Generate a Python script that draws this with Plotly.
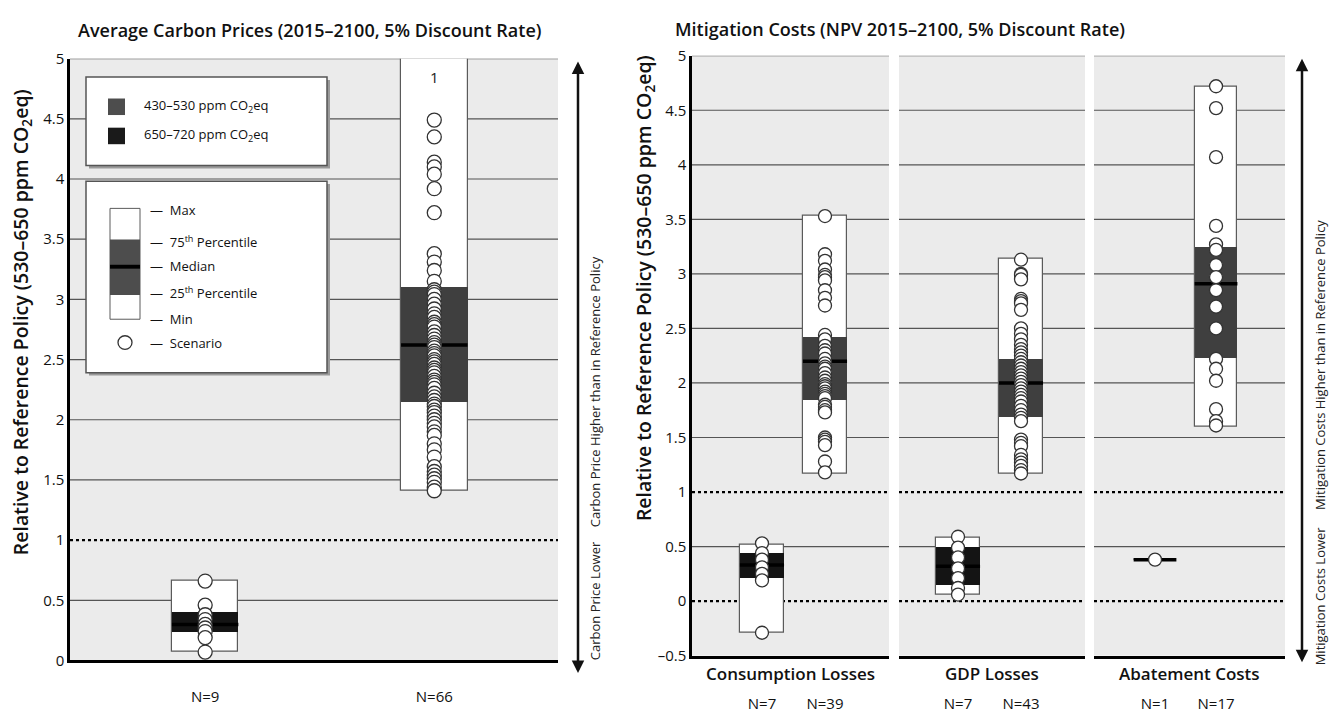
import plotly.graph_objects as go

W, H = 1330, 722

# ---------------- data ----------------
# Left panel: average carbon prices
left_n = ["N=9", "N=66"]
left_min = [0.07, 1.41]
left_q1 = [0.24, 2.15]
left_med = [0.30, 2.62]
left_q3 = [0.41, 3.11]
left_max = [0.66, 5.60]      # max of N=66 lies above the axis (one scenario > 5)
left_above = ["", "1"]
left_pts = [
    [0.66, 0.46, 0.38, 0.34, 0.30, 0.27, 0.24, 0.19, 0.07],
    [4.49, 4.35, 4.14, 4.10, 4.04, 3.92, 3.72, 3.38, 3.31, 3.24, 3.15,
     3.08, 3.06, 3.04, 3.00, 2.96, 2.92, 2.88, 2.85, 2.81, 2.79, 2.77, 2.73,
     2.70, 2.67, 2.64, 2.62, 2.60, 2.57, 2.55, 2.53, 2.50, 2.48, 2.46, 2.43,
     2.41, 2.39, 2.36, 2.33, 2.31, 2.29, 2.26, 2.22, 2.19, 2.16,
     2.13, 2.11, 2.08, 2.06, 2.03, 2.00, 1.97, 1.94, 1.90, 1.87, 1.80, 1.75,
     1.69, 1.61, 1.57, 1.54, 1.51, 1.48, 1.44, 1.41],
]

# Right panel: mitigation costs
cost_types = ["Consumption Losses", "GDP Losses", "Abatement Costs"]
cost_n = [["N=7", "N=39"], ["N=7", "N=43"], ["N=1", "N=17"]]
cost_min = [[-0.29, 1.17], [0.06, 1.17], [0.38, 1.60]]
cost_q1 = [[0.21, 1.85], [0.15, 1.69], [0.38, 2.23]]
cost_med = [[0.33, 2.20], [0.32, 2.00], [0.38, 2.91]]
cost_q3 = [[0.44, 2.42], [0.50, 2.22], [0.38, 3.25]]
cost_max = [[0.52, 3.53], [0.58, 3.14], [0.38, 4.72]]
cost_pts = [
    [[0.53, 0.44, 0.38, 0.31, 0.25, 0.19, -0.29],
     [3.53, 3.18, 3.12, 3.04, 2.99, 2.97, 2.94, 2.85, 2.78, 2.71, 2.44, 2.40,
      2.34, 2.30, 2.27, 2.22, 2.18, 2.15, 2.13, 2.09, 2.05, 2.02, 1.99, 1.97,
      1.95, 1.92, 1.90, 1.88, 1.86, 1.80, 1.78, 1.75, 1.73, 1.50, 1.48, 1.46,
      1.43, 1.28, 1.18]],
    [[0.59, 0.49, 0.40, 0.30, 0.21, 0.12, 0.06],
     [3.13, 3.00, 2.99, 2.95, 2.77, 2.75, 2.73, 2.67, 2.50, 2.45, 2.40, 2.35,
      2.31, 2.28, 2.25, 2.22, 2.19, 2.16, 2.13, 2.10, 2.07, 2.04, 2.01, 1.98,
      1.95, 1.92, 1.89, 1.86, 1.83, 1.79, 1.75, 1.71, 1.68, 1.65, 1.48, 1.45,
      1.42, 1.34, 1.30, 1.27, 1.24, 1.20, 1.17]],
    [[0.38],
     [4.72, 4.52, 4.07, 3.44, 3.27, 3.22, 3.08, 2.97, 2.85, 2.70, 2.50, 2.22,
      2.13, 2.02, 1.76, 1.65, 1.61]],
]

left_ticks = [0, 0.5, 1, 1.5, 2, 2.5, 3, 3.5, 4, 4.5, 5]
left_ticktext = ["0", "0.5", "1", "1.5", "2", "2.5", "3", "3.5", "4", "4.5", "5"]
right_ticks = [-0.5, 0, 0.5, 1, 1.5, 2, 2.5, 3, 3.5, 4, 4.5, 5]
right_ticktext = ["–0.5", "0", "0.5", "1", "1.5", "2", "2.5", "3", "3.5", "4", "4.5", "5"]

# ---------------- styling ----------------
FONT = "Open Sans, Noto Sans, sans-serif"
NARROW = "Liberation Sans Narrow, Open Sans, sans-serif"
BG = "#ebebeb"
GRID = "#555555"
DARK = ["#141414", "#3f3f3f"]   # 650-720 ppm, 430-530 ppm
OUT = "#5a5a5a"


def px(x):
    return x / W


def py(y):
    return 1 - y / H


fig = go.Figure()


def add_box(pos, mn, q1, med, q3, mx, width, dark, pts, xa, ya, msize):
    fig.add_bar(x=[pos], y=[mx - mn], base=[mn], width=[width],
                marker=dict(color="white", line=dict(color=OUT, width=1.2)),
                xaxis=xa, yaxis=ya, hoverinfo="skip")
    fig.add_bar(x=[pos], y=[q3 - q1], base=[q1], width=[width],
                marker=dict(color=dark, line=dict(color=dark, width=0)),
                xaxis=xa, yaxis=ya, hoverinfo="skip")
    fig.add_scatter(x=[pos - width / 2, pos + width / 2], y=[med, med], mode="lines",
                    line=dict(color="#000000", width=3.5), xaxis=xa, yaxis=ya,
                    hoverinfo="skip")
    fig.add_scatter(x=[pos] * len(pts), y=pts, mode="markers",
                    marker=dict(size=msize, color="white", line=dict(color="#333333", width=1.3)),
                    xaxis=xa, yaxis=ya, cliponaxis=True)


ann = []


def text(x, y, s, size=14, family=FONT, weight=400, xanchor="center", angle=0,
         xref="paper", yref="paper", color="#111"):
    ann.append(dict(x=x, y=y, xref=xref, yref=yref, text=s, showarrow=False,
                    xanchor=xanchor, yanchor="middle", textangle=angle,
                    font=dict(size=size, family=family, color=color, weight=weight)))


# left panel boxes
for i in range(2):
    add_box(i + 1, left_min[i], left_q1[i], left_med[i], left_q3[i], left_max[i],
            0.29, DARK[i], left_pts[i], "x", "y", 14)
    if left_above[i]:
        text(i + 1, 4.85, left_above[i], size=15, xref="x", yref="y", color="#222")

# right panels
xaxes = ["x2", "x3", "x4"]
for p in range(3):
    for j in range(2):
        add_box(j + 1, cost_min[p][j], cost_q1[p][j], cost_med[p][j], cost_q3[p][j],
                cost_max[p][j], 0.7, DARK[j], cost_pts[p][j], xaxes[p], "y2", 13)

shapes = []
# gridlines
for v in left_ticks:
    if v == 0:
        continue
    dotted = v == 1
    shapes.append(dict(type="line", xref="x domain", yref="y", x0=0, x1=1, y0=v, y1=v,
                       layer="below",
                       line=dict(color="#000" if dotted else GRID,
                                 width=2.2 if dotted else 1.2,
                                 dash="dot" if dotted else "solid")))
for xa in xaxes:
    for v in right_ticks:
        if v == -0.5:
            continue
        dotted = v in (0, 1)
        shapes.append(dict(type="line", xref=f"{xa} domain", yref="y2", x0=0, x1=1, y0=v, y1=v,
                           layer="below",
                           line=dict(color="#000" if dotted else GRID,
                                     width=2.2 if dotted else 1.2,
                                     dash="dot" if dotted else "solid")))


# legend boxes (with drop shadow)
def rect(x0, y0, x1, y1, fill, line_color=None, lw=0):
    return dict(type="rect", xref="paper", yref="paper",
                x0=px(x0), x1=px(x1), y0=py(y1), y1=py(y0), layer="above",
                fillcolor=fill,
                line=dict(color=line_color or fill, width=lw))


shapes += [
    rect(89, 71, 330, 162, "#9a9a9a"),
    rect(86, 68, 327, 159, "white", "#555555", 1.5),
    rect(108, 90, 125, 107, "#4d4d4d"),
    rect(108, 120, 125, 137, "#1a1a1a"),
    rect(89, 178, 330, 375, "#9a9a9a"),
    rect(86, 175, 327, 372, "white", "#555555", 1.5),
    rect(110, 203, 140, 317, "white", OUT, 1),
    rect(110, 235, 140, 292, "#4d4d4d"),
    rect(110, 261, 140, 265, "#000000"),
    dict(type="circle", xref="paper", yref="paper", x0=px(118), x1=px(132),
         y0=py(348), y1=py(334), layer="above", fillcolor="white",
         line=dict(color="#333333", width=1.3)),
]

text(px(142), py(98), "430–530 ppm CO<sub>2</sub>eq", size=13, xanchor="left")
text(px(142), py(128), "650–720 ppm CO<sub>2</sub>eq", size=13, xanchor="left")
for s, yy in [("Max", 205), ("75<sup>th</sup> Percentile", 237), ("Median", 262),
              ("25<sup>th</sup> Percentile", 290), ("Min", 317), ("Scenario", 341)]:
    text(px(148), py(yy), "—  " + s, size=13, xanchor="left")

# titles
text(px(309), py(20), "Average Carbon Prices (2015–2100, 5% Discount Rate)", size=18, weight=600)
text(px(900), py(19), "Mitigation Costs (NPV 2015–2100, 5% Discount Rate)", size=18, weight=600)
ytitle = "Relative to Reference Policy (530–650 ppm CO<sub>2</sub>eq)"
text(px(21), py(320), ytitle, size=19.5, weight=600, angle=-90)
text(px(644), py(285), ytitle, size=19.5, weight=600, angle=-90)

# category labels
for p in range(3):
    text(0.5, py(681), cost_types[p], size=17, weight=600, xref=f"{xaxes[p]} domain")

# double arrows
ann.append(dict(x=px(578), y=py(52), xref="paper", yref="paper", ax=0, ay=613,
                axref="pixel", ayref="pixel", text="", showarrow=True,
                arrowside="end+start", arrowhead=2, arrowsize=1, arrowwidth=2.5,
                arrowcolor="#111"))
ann.append(dict(x=px(1302), y=py(49), xref="paper", yref="paper", ax=0, ay=605,
                axref="pixel", ayref="pixel", text="", showarrow=True,
                arrowside="end+start", arrowhead=2, arrowsize=1, arrowwidth=2.5,
                arrowcolor="#111"))
text(px(595), py(392), "Carbon Price Higher than in Reference Policy", size=13,
     family=NARROW, angle=-90, color="#222")
text(px(595), py(607), "Carbon Price Lower", size=13, family=NARROW, angle=-90, color="#222")
text(px(1320), py(364), "Mitigation Costs Higher than in Reference Policy", size=13,
     angle=-90, color="#222")
text(px(1320), py(602), "Mitigation Costs Lower", size=13, angle=-90, color="#222")

axis_common = dict(showgrid=False, zeroline=False, showline=True, linecolor="#000",
                   linewidth=2.5, fixedrange=True)
TF = dict(size=15)

fig.update_layout(
    width=W, height=H, margin=dict(l=0, r=0, t=0, b=0),
    paper_bgcolor="white", plot_bgcolor=BG, showlegend=False,
    barmode="overlay", bargap=0,
    shapes=shapes, annotations=ann,
    font=dict(family=FONT, size=15, color="#111"),
    xaxis=dict(domain=[px(70), px(558)], range=[0.41, 2.54], anchor="y",
               tickvals=[1, 2], ticktext=left_n, ticks="outside", ticklen=21,
               tickcolor="rgba(0,0,0,0)", tickfont=TF, **axis_common),
    yaxis=dict(domain=[py(668), py(49)], range=[0, 5], anchor="x",
               tickvals=left_ticks, ticktext=left_ticktext, ticks="",
               tickfont=TF, **axis_common),
    xaxis2=dict(domain=[px(692), px(889)], range=[-0.111, 3.016], anchor="y2",
                tickvals=[1, 2], ticktext=cost_n[0], ticks="outside", ticklen=33,
                tickcolor="rgba(0,0,0,0)", tickfont=TF, **axis_common),
    xaxis3=dict(domain=[px(899), px(1085)], range=[0.063, 3.016], anchor="y2",
                tickvals=[1, 2], ticktext=cost_n[1], ticks="outside", ticklen=33,
                tickcolor="rgba(0,0,0,0)", tickfont=TF, **axis_common),
    xaxis4=dict(domain=[px(1094), px(1285)], range=[0.0, 3.13], anchor="y2",
                tickvals=[1, 2], ticktext=cost_n[2], ticks="outside", ticklen=33,
                tickcolor="rgba(0,0,0,0)", tickfont=TF, **axis_common),
    yaxis2=dict(domain=[py(663), py(46)], range=[-0.5, 5], anchor="x2",
                tickvals=right_ticks, ticktext=right_ticktext, ticks="",
                tickfont=TF, **axis_common),
)

fig.write_html("out.html")
